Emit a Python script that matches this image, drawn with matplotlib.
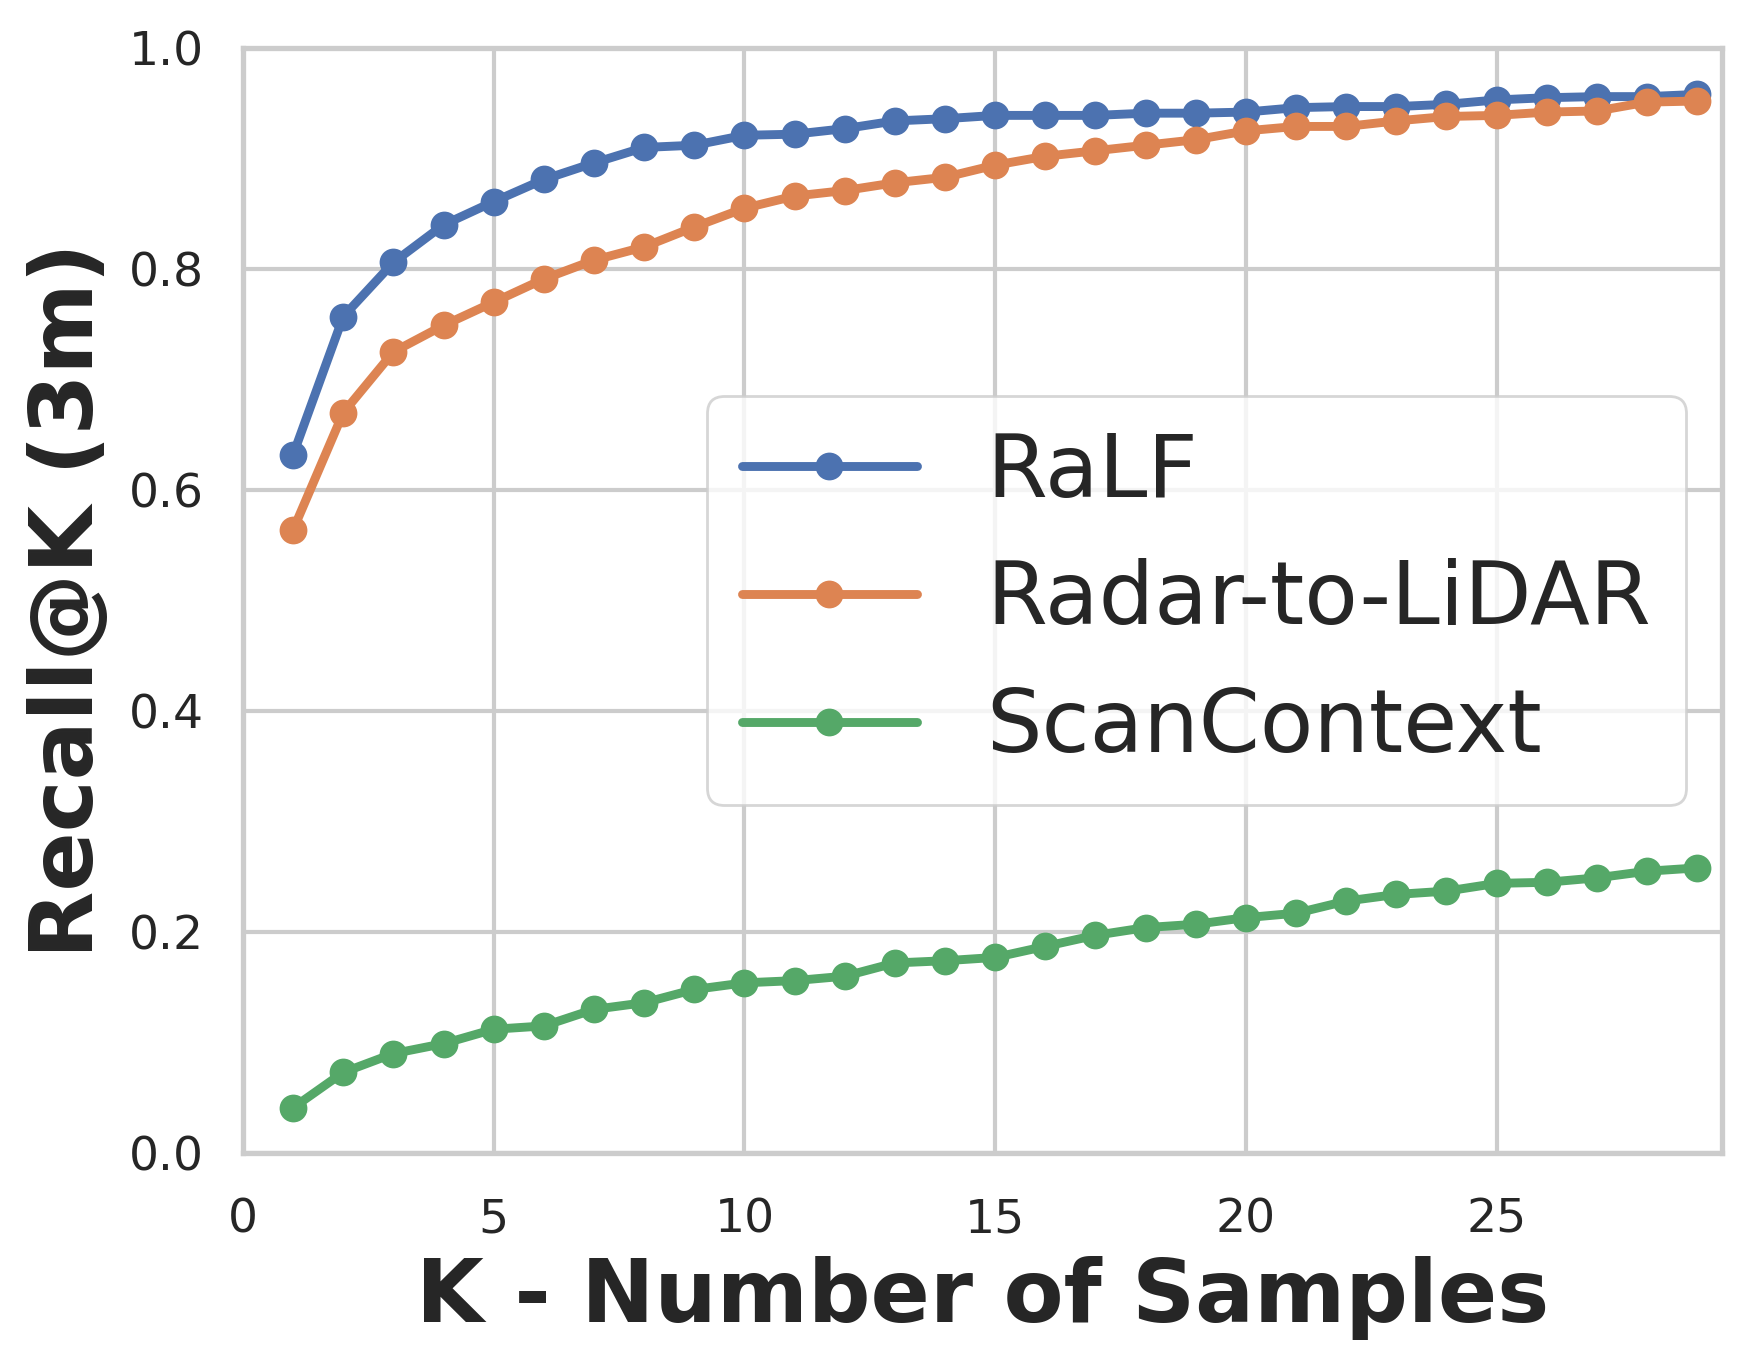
import numpy as np
import seaborn as sns
from matplotlib import pyplot as plt

# Recall@K values
k_values = np.arange(1, 30)

ralf = [0.632, 0.757, 0.806, 0.840, 0.861, 0.881, 0.896, 0.910, 0.912, 0.921,
        0.922, 0.927, 0.934, 0.936, 0.939, 0.939, 0.939, 0.941, 0.941, 0.942,
        0.946, 0.947, 0.947, 0.949, 0.953, 0.955, 0.956, 0.956, 0.958]

radar_to_lidar = [0.564, 0.670, 0.725, 0.749, 0.770, 0.791, 0.808, 0.820, 0.838, 0.855,
                  0.866, 0.871, 0.878, 0.883, 0.894, 0.902, 0.907, 0.912, 0.917, 0.925,
                  0.929, 0.929, 0.934, 0.938, 0.939, 0.942, 0.943, 0.951, 0.952]

scancontext = [0.041, 0.073, 0.090, 0.099, 0.112, 0.115, 0.130, 0.136, 0.148, 0.154,
               0.156, 0.160, 0.172, 0.174, 0.177, 0.187, 0.197, 0.204, 0.207, 0.213,
               0.217, 0.228, 0.234, 0.237, 0.244, 0.245, 0.249, 0.255, 0.258]

labels = ['RaLF', 'Radar-to-LiDAR', 'ScanContext']
colors = ['#4C72B0', '#DD8452', '#55A868']

sns.set_theme(style='whitegrid')
plt.rcParams['font.family'] = ['DejaVu Sans']

fig, ax = plt.subplots(figsize=(1761 / 200, 1371 / 200), dpi=200)
fig.subplots_adjust(left=0.138, right=0.978, top=0.965, bottom=0.159)

for series, name, col in zip([ralf, radar_to_lidar, scancontext], labels, colors):
    ax.plot(k_values, series, marker='o', color=col, lw=3.2, ms=9, label=name)

ax.set_xlim(0, 29.5)
ax.set_ylim(0, 1.0)
ax.set_xticks([0, 5, 10, 15, 20, 25])
ax.set_yticks([0.0, 0.2, 0.4, 0.6, 0.8, 1.0])

ax.set_xlabel('K - Number of Samples', fontsize=31.5, fontweight='bold', labelpad=5)
ax.set_ylabel('Recall@K (3m)', fontsize=31.5, fontweight='bold', labelpad=6.5)
ax.tick_params(axis='x', labelsize=17, pad=10)
ax.tick_params(axis='y', labelsize=17, pad=8)

ax.grid(True, color='#cccccc', lw=1.5)
for side in ['top', 'bottom', 'left', 'right']:
    ax.spines[side].set_linewidth(1.9)
    ax.spines[side].set_color('#cccccc')

ax.legend(loc='center right', fontsize=31.5, handlelength=2.0, borderaxespad=0.41)

plt.savefig('out.png', dpi=200)
